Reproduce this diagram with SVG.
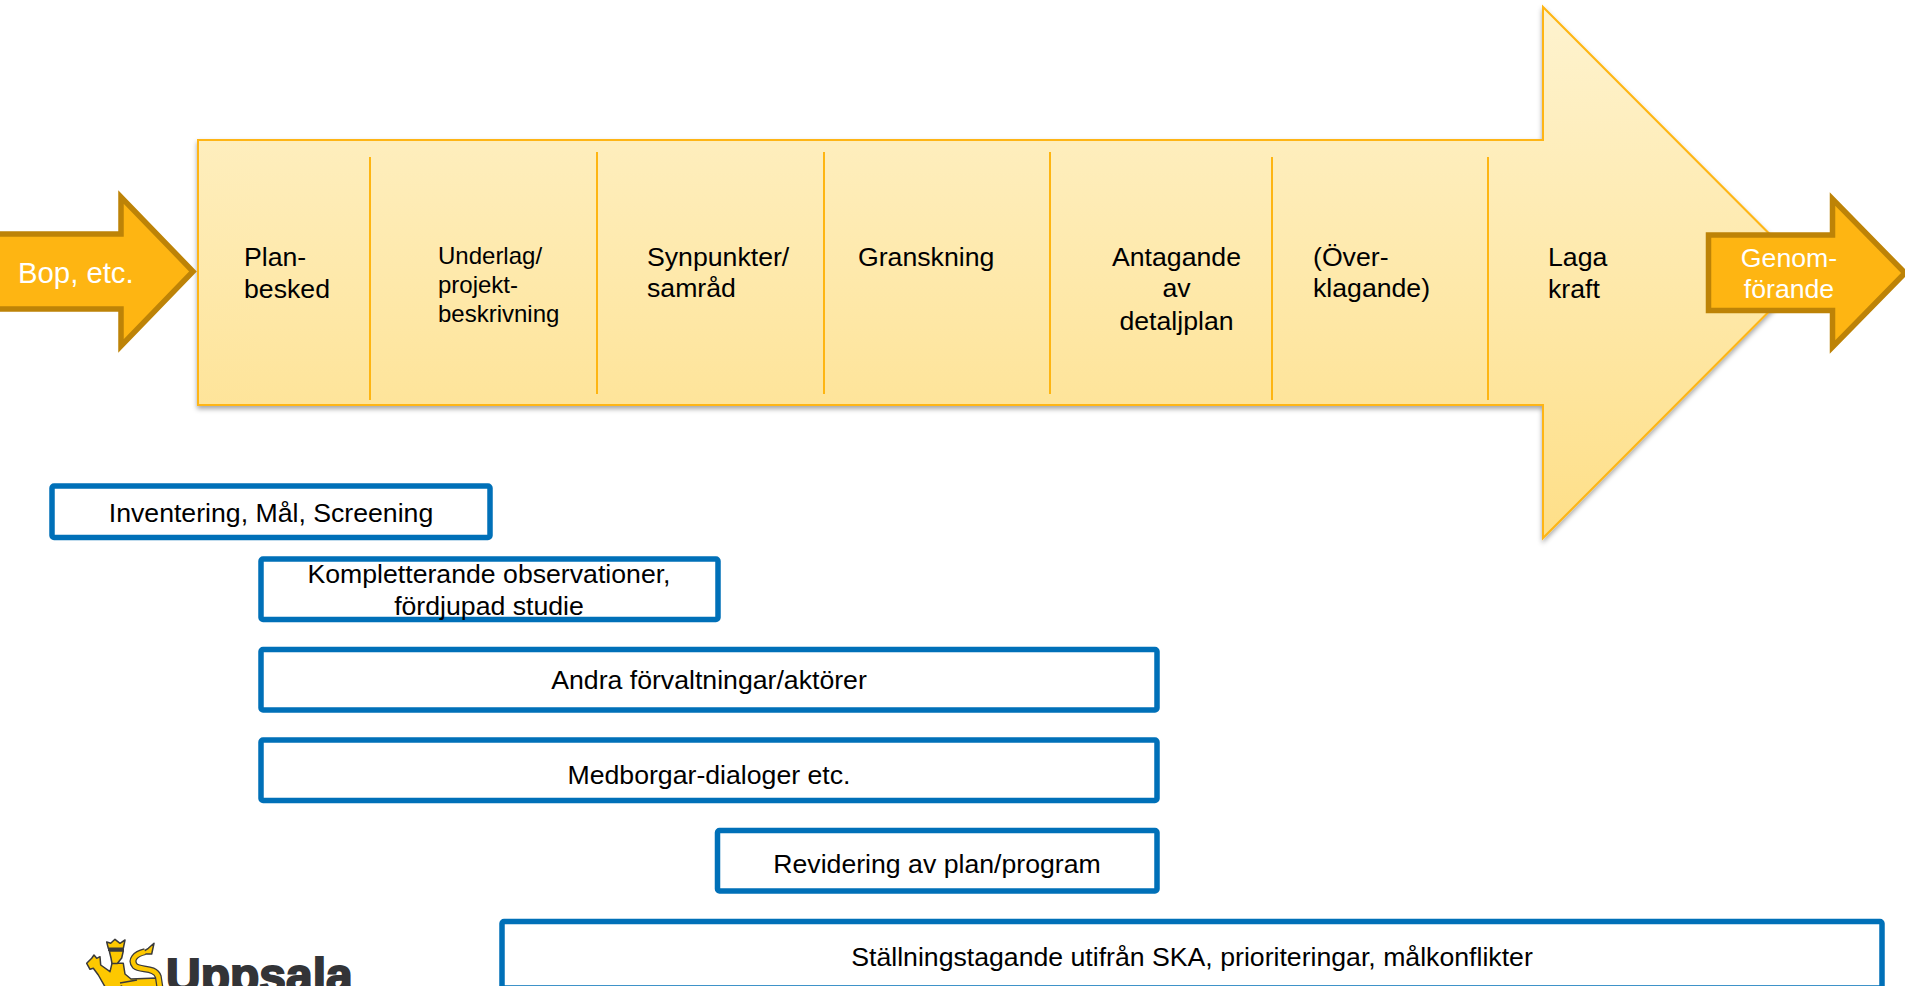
<svg xmlns="http://www.w3.org/2000/svg" width="1905" height="986" viewBox="0 0 1905 986">
<style>
text{font-family:"Liberation Sans",Arial,sans-serif;fill:#000;font-size:26.67px}
.m{text-anchor:middle}
.w{fill:#fff}
.box{fill:#fff;stroke:#0070b8;stroke-width:5.5}
.div{stroke:#feb512;stroke-width:2;fill:none}
.ar{fill:#feb512;stroke:#bd8307;stroke-width:5.5}
.s{font-size:24px}
.lg{fill:#fdc800;stroke:#3a3a3a;stroke-width:1.5;stroke-linejoin:round}
</style>
<defs>
<linearGradient id="g" x1="0" y1="0" x2="0" y2="1"><stop offset="0" stop-color="#fef3cf"/><stop offset="1" stop-color="#fedf88"/></linearGradient>
<filter id="sh" x="-3%" y="-3%" width="106%" height="108%"><feDropShadow dx="0" dy="3" stdDeviation="2.5" flood-color="#000" flood-opacity="0.35"/></filter>
</defs>
<g id="main-arrow">
<path d="M198 140H1543V7L1808 272.500L1543 538V405H198Z" fill="url(#g)" stroke="#feb512" stroke-width="2" filter="url(#sh)"/>
</g>
<g id="connectors">
<path class="div" d="M370 157V400M597 152V394M824 152V394M1050 152V394M1272 157V400M1488 157V400"/>
</g>
<g id="bop"><path class="ar" d="M-10 234H121V197L193 271.500L121 346V309H-10Z"/><text class="w" x="18" y="282.500" style="font-size:29.3px">Bop, etc.</text></g>
<g id="genom"><path class="ar" d="M1708.500 235H1832.500V199L1905 273L1832.500 347V310.500H1708.500Z"/><text class="w m" x="1789" y="267">Genom-</text><text class="w m" x="1789" y="298">förande</text></g>
<g id="plan"><text x="244" y="266">Plan-</text><text x="244" y="298">besked</text></g>
<g id="underlag"><text class="s" x="438" y="264">Underlag/</text><text class="s" x="438" y="293">projekt-</text><text class="s" x="438" y="322">beskrivning</text></g>
<g id="synpunkter"><text x="647" y="266">Synpunkter/</text><text x="647" y="297">samråd</text></g>
<g id="granskning"><text x="858" y="266">Granskning</text></g>
<g id="antagande"><text class="m" x="1176.500" y="266">Antagande</text><text class="m" x="1176.500" y="297">av</text><text class="m" x="1176.500" y="330">detaljplan</text></g>
<g id="overklagande"><text x="1313" y="266">(Över-</text><text x="1313" y="297">klagande)</text></g>
<g id="laga"><text x="1548" y="266">Laga</text><text x="1548" y="298">kraft</text></g>
<g id="b1"><rect class="box" x="52" y="486" width="438" height="51.500" rx="2"/><text class="m" x="271" y="521.500">Inventering, Mål, Screening</text></g>
<g id="b2"><rect class="box" x="261" y="559" width="457" height="60.500" rx="2"/><text class="m" x="489" y="583">Kompletterande observationer,</text><text class="m" x="489" y="615">fördjupad studie</text></g>
<g id="b3"><rect class="box" x="261" y="649.500" width="896" height="60.500" rx="2"/><text class="m" x="709" y="689">Andra förvaltningar/aktörer</text></g>
<g id="b4"><rect class="box" x="261" y="740" width="896" height="60.500" rx="2"/><text class="m" x="709" y="784">Medborgar-dialoger etc.</text></g>
<g id="b5"><rect class="box" x="717.500" y="830.500" width="439.500" height="60.500" rx="2"/><text class="m" x="937" y="873">Revidering av plan/program</text></g>
<g id="b6"><rect class="box" x="502" y="921.500" width="1380" height="66.500" rx="2"/><text class="m" x="1192" y="966">Ställningstagande utifrån SKA, prioriteringar, målkonflikter</text></g>
<g id="logo">
<path class="lg" d="M86.700 963.300L91.700 958.300L94 955L96.700 958.300L100 956.700L100.700 965L110 971.700L112 963.300H123.300L125 974L131 979L157 978L161 992H125L121.700 986L108 992L98.300 975L93.300 968.300L90 969.300Z"/>
<path d="M120 983L137 980" stroke="#3a3a3a" stroke-width="1.500" fill="none"/>
<path class="lg" d="M106.700 942L110.700 943.300L115 939.300L120 943.300L125 940L123.300 948.300H108.300Z"/>
<path d="M108 950H124" stroke="#3a3a3a" stroke-width="2" fill="none"/>
<path class="lg" d="M109.300 951L123.300 951L121.700 958L117.300 963.500H112L111 958Z"/>
<path d="M145 951.700C135 954 130 960 135 966C140 970.700 155 966.700 158.300 976.700L160 988" fill="none" stroke="#3a3a3a" stroke-width="7"/>
<path class="lg" d="M154 943.300L151.700 954H139.300L148.300 948.300Z"/>
<path d="M145 951.700C135 954 130 960 135 966C140 970.700 155 966.700 158.300 976.700L160 988" fill="none" stroke="#fdc800" stroke-width="4.500"/>
<text x="166" y="992" style="font-size:48px;font-weight:bold;fill:#333437;stroke:#333437;stroke-width:2">Uppsala</text>
</g>
</svg>
